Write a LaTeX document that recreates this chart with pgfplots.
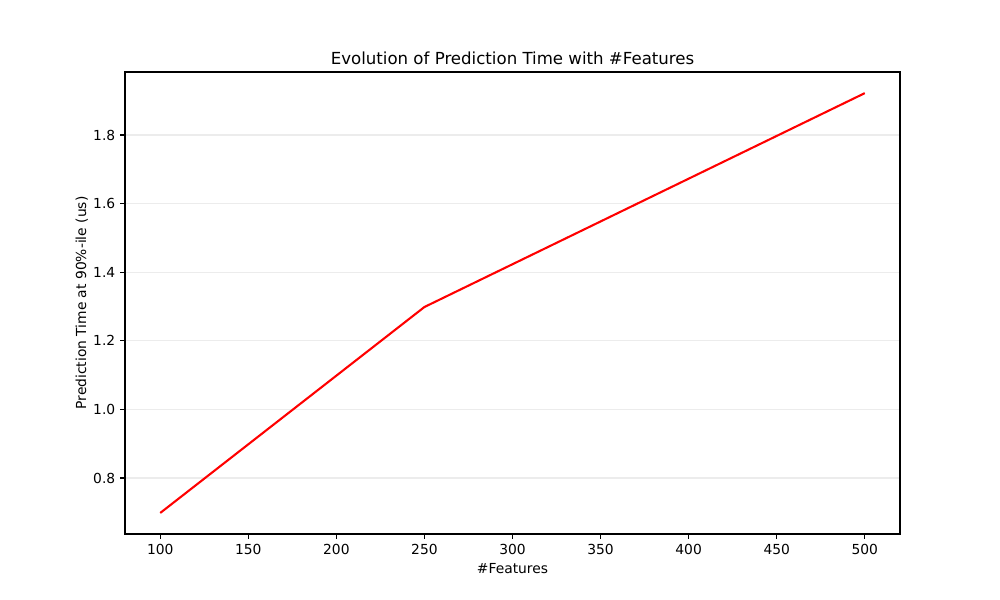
\documentclass[border=0pt]{standalone}
\usepackage{pgfplots}
\pgfplotsset{compat=1.18}
\usepackage{fontspec}
\setmainfont{DejaVu Sans}
\begin{document}
\begin{tikzpicture}[x=1bp,y=1bp]
\useasboundingbox (-90,-47.52) rectangle (630,384.48);
\begin{axis}[
  at={(0,0)}, anchor=south west,
  scale only axis,
  width=558bp, height=332.64bp,
  xmin=80, xmax=520,
  ymin=0.6367, ymax=1.9837,
  xtick={100,150,...,500},
  ytick={0.8,1.0,1.2,1.4,1.6,1.8},
  yticklabel style={/pgf/number format/.cd,fixed,fixed zerofill,precision=1},
  /pgf/number format/assume math mode=true,
  tick align=outside,
  tick pos=left,
  major tick length=3.5bp,
  ymajorgrids=true,
  grid style={line width=0.8bp, gray!15},
  axis line style={line width=0.8bp},
  every tick/.style={black, line width=0.8bp},
  tick label style={font=\fontsize{10}{12}\selectfont},
  label style={font=\fontsize{10}{12}\selectfont},
  xlabel={\#Features},
  ylabel={Prediction Time at 90\%-ile (us)},
  title={Evolution of Prediction Time with \#Features},
  title style={font=\fontsize{12}{14}\selectfont, yshift=-4.5pt},
  xlabel style={yshift=0pt},
  ylabel style={yshift=-3pt},
]
\addplot[red, line width=1.5bp, no marks] coordinates {
  (100,0.698) (250,1.2985) (500,1.922)
};
\end{axis}
\end{tikzpicture}
\end{document}
